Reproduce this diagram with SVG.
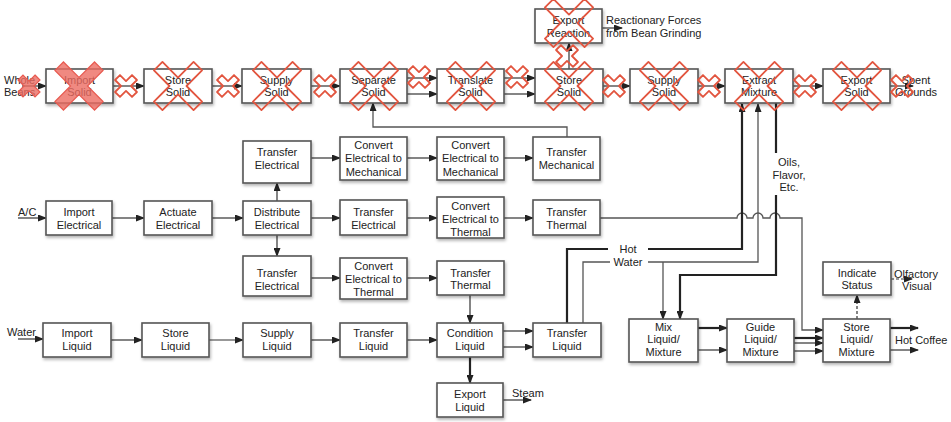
<svg xmlns="http://www.w3.org/2000/svg" xmlns:xlink="http://www.w3.org/1999/xlink" width="951" height="422" viewBox="0 0 951 422">
<style>
.box{fill:#fff;stroke:#555;stroke-width:1.6;filter:url(#sh)}
.t{font-family:"Liberation Sans",Arial,sans-serif;font-size:11px;fill:#222;text-anchor:middle}
.l{font-family:"Liberation Sans",Arial,sans-serif;font-size:11px;fill:#222}
.c{fill:none;stroke:#333;stroke-width:1.2}
.a{marker-end:url(#ah)}
.k{stroke-width:2.2;stroke:#222}
.g{stroke:#555;stroke-width:1.3}
.d{stroke-dasharray:3,2}
.x{fill:none;stroke:#e2553f;stroke-width:1.8;stroke-linejoin:round}
.xf{fill:#ec6b62;fill-opacity:0.8;stroke:#e85a50;stroke-width:1.2}
</style>
<defs>
<filter id="sh" x="-10%" y="-10%" width="130%" height="140%">
<feDropShadow dx="1" dy="2" stdDeviation="1.5" flood-color="#000" flood-opacity="0.3"/>
</filter>
<marker id="ah" markerWidth="9" markerHeight="7" refX="8" refY="3.5" orient="auto" markerUnits="userSpaceOnUse">
<path d="M0,0 L9,3.5 L0,7 z" fill="#222"/>
</marker>
<path id="bx" d="M-6,-28 H6 V-6 H28 V6 H6 V28 H-6 V6 H-28 V-6 H-6 Z" transform="rotate(45)"/>
<path id="sx" d="M-3.5,-12 H3.5 V-3.5 H12 V3.5 H3.5 V12 H-3.5 V3.5 H-12 V-3.5 H-3.5 Z" transform="rotate(45)"/>
</defs>

<g id="connectors">
<path class="c a" d="M22,86 H46"/>
<path class="c a" d="M113,86 H144"/>
<path class="c a" d="M212,86 H242"/>
<path class="c a" d="M311,86 H340"/>
<path class="c a" d="M407,78 H437"/>
<path class="c a" d="M407,94 H437"/>
<path class="c a" d="M504,78 H535"/>
<path class="c a" d="M504,94 H535"/>
<path class="c a" d="M603,86 H630"/>
<path class="c a" d="M698,86 H725"/>
<path class="c a" d="M793,86 H823"/>
<path class="c a" d="M890,86 H913"/>
<path class="c a" d="M569,69 V43"/>
<path class="c a" d="M602,28 H622"/>
<path class="c a g" d="M567,137 V127 H373 V103"/>
<path class="c a" d="M277,201 V183"/>
<path class="c a" d="M277,235 V256"/>
<path class="c a" d="M18,218 H46"/>
<path class="c a" d="M112,218 H144"/>
<path class="c a" d="M212,218 H243"/>
<path class="c a" d="M311,218 H340"/>
<path class="c a" d="M407,218 H437"/>
<path class="c a" d="M504,218 H533"/>
<path class="c a" d="M311,158 H340"/>
<path class="c a" d="M407,158 H437"/>
<path class="c a" d="M504,158 H533"/>
<path class="c a" d="M311,278 H340"/>
<path class="c a" d="M407,278 H437"/>
<path class="c a g" d="M600,218 H737 a5,5 0 0 1 10,0 H753 a5,5 0 0 1 10,0 H770 a5,5 0 0 1 10,0 H802 V330 H823"/>
<path class="c a" d="M18,339 H43"/>
<path class="c a" d="M111,340 H142"/>
<path class="c a" d="M209,340 H243"/>
<path class="c a" d="M311,340 H340"/>
<path class="c a" d="M407,340 H437"/>
<path class="c a" d="M470,295 V323"/>
<path class="c a k" d="M470,357 V383"/>
<path class="c a" d="M503,331 H533"/>
<path class="c a" d="M503,347 H533"/>
<path class="c a" d="M503,400 H531"/>
<path class="c k" d="M567,323 V249 H608"/>
<path class="c a k" d="M648,249 H742 V104"/>
<path class="c g" d="M583,323 V262 H610"/>
<path class="c a g" d="M648,262 H758 V104"/>
<path class="c a g" d="M663,262 V319"/>
<path class="c a" d="M741,104 V84 H776 V102"/>
<path class="c k" d="M776,102 V153"/>
<path class="c a k" d="M776,195 V275 H680 V319"/>
<path class="c a k" d="M698,328 H727"/>
<path class="c a" d="M698,350 H727"/>
<path class="c a k" d="M794,338 H823"/>
<path class="c a" d="M794,343 H823"/>
<path class="c a" d="M794,351 H823"/>
<path class="c a k" d="M890,328 H918"/>
<path class="c a" d="M890,350 H918"/>
<path class="c a d" d="M857,319 V295"/>
<path class="c a d" d="M891,279 H912"/>
</g>

<g id="import-solid"><rect class="box" x="46" y="69" width="67" height="34"/><text class="t" x="79.5" y="84">Import</text><text class="t" x="79.5" y="96">Solid</text></g>
<g id="store-solid"><rect class="box" x="144" y="69" width="68" height="34"/><text class="t" x="178" y="84">Store</text><text class="t" x="178" y="96">Solid</text></g>
<g id="supply-solid"><rect class="box" x="242" y="69" width="69" height="34"/><text class="t" x="276.5" y="84">Supply</text><text class="t" x="276.5" y="96">Solid</text></g>
<g id="separate-solid"><rect class="box" x="340" y="69" width="67" height="34"/><text class="t" x="373.5" y="84">Separate</text><text class="t" x="373.5" y="96">Solid</text></g>
<g id="translate-solid"><rect class="box" x="437" y="69" width="67" height="34"/><text class="t" x="470.5" y="84">Translate</text><text class="t" x="470.5" y="96">Solid</text></g>
<g id="store-solid-2"><rect class="box" x="535" y="69" width="68" height="34"/><text class="t" x="569" y="84">Store</text><text class="t" x="569" y="96">Solid</text></g>
<g id="export-reaction"><rect class="box" x="535" y="9" width="67" height="34"/><text class="t" x="568.5" y="24">Export</text><text class="t" x="568.5" y="37">Reaction</text></g>
<g id="supply-solid-2"><rect class="box" x="630" y="69" width="68" height="34"/><text class="t" x="664" y="84">Supply</text><text class="t" x="664" y="96">Solid</text></g>
<g id="extract-mixture"><rect class="box" x="725" y="69" width="68" height="34"/><text class="t" x="759" y="84">Extract</text><text class="t" x="759" y="96">Mixture</text></g>
<g id="export-solid"><rect class="box" x="823" y="69" width="67" height="34"/><text class="t" x="856.5" y="84">Export</text><text class="t" x="856.5" y="96">Solid</text></g>

<g id="transfer-electrical-top"><rect class="box" x="243" y="141" width="68" height="42"/><text class="t" x="277" y="156">Transfer</text><text class="t" x="277" y="169">Electrical</text></g>
<g id="convert-em-1"><rect class="box" x="340" y="137" width="67" height="43"/><text class="t" x="373.5" y="149">Convert</text><text class="t" x="373.5" y="162">Electrical to</text><text class="t" x="373.5" y="176">Mechanical</text></g>
<g id="convert-em-2"><rect class="box" x="437" y="137" width="67" height="43"/><text class="t" x="470.5" y="149">Convert</text><text class="t" x="470.5" y="162">Electrical to</text><text class="t" x="470.5" y="176">Mechanical</text></g>
<g id="transfer-mechanical"><rect class="box" x="533" y="137" width="67" height="43"/><text class="t" x="566.5" y="156">Transfer</text><text class="t" x="566.5" y="169">Mechanical</text></g>

<g id="import-electrical"><rect class="box" x="46" y="201" width="66" height="34"/><text class="t" x="79" y="216">Import</text><text class="t" x="79" y="229">Electrical</text></g>
<g id="actuate-electrical"><rect class="box" x="144" y="201" width="68" height="34"/><text class="t" x="178" y="216">Actuate</text><text class="t" x="178" y="229">Electrical</text></g>
<g id="distribute-electrical"><rect class="box" x="243" y="201" width="68" height="34"/><text class="t" x="277" y="216">Distribute</text><text class="t" x="277" y="229">Electrical</text></g>
<g id="transfer-electrical-mid"><rect class="box" x="340" y="200" width="67" height="35"/><text class="t" x="373.5" y="216">Transfer</text><text class="t" x="373.5" y="229">Electrical</text></g>
<g id="convert-et-mid"><rect class="box" x="437" y="197" width="67" height="41"/><text class="t" x="470.5" y="210">Convert</text><text class="t" x="470.5" y="223">Electrical to</text><text class="t" x="470.5" y="236">Thermal</text></g>
<g id="transfer-thermal-mid"><rect class="box" x="533" y="200" width="67" height="35"/><text class="t" x="566.5" y="216">Transfer</text><text class="t" x="566.5" y="229">Thermal</text></g>

<g id="transfer-electrical-bot"><rect class="box" x="243" y="256" width="68" height="40"/><text class="t" x="277" y="277">Transfer</text><text class="t" x="277" y="290">Electrical</text></g>
<g id="convert-et-bot"><rect class="box" x="340" y="258" width="67" height="41"/><text class="t" x="373.5" y="270">Convert</text><text class="t" x="373.5" y="283">Electrical to</text><text class="t" x="373.5" y="296">Thermal</text></g>
<g id="transfer-thermal-bot"><rect class="box" x="437" y="261" width="67" height="34"/><text class="t" x="470.5" y="277">Transfer</text><text class="t" x="470.5" y="289">Thermal</text></g>

<g id="import-liquid"><rect class="box" x="43" y="323" width="68" height="34"/><text class="t" x="77" y="337">Import</text><text class="t" x="77" y="350">Liquid</text></g>
<g id="store-liquid"><rect class="box" x="142" y="323" width="67" height="34"/><text class="t" x="175.5" y="337">Store</text><text class="t" x="175.5" y="350">Liquid</text></g>
<g id="supply-liquid"><rect class="box" x="243" y="323" width="68" height="34"/><text class="t" x="277" y="337">Supply</text><text class="t" x="277" y="350">Liquid</text></g>
<g id="transfer-liquid"><rect class="box" x="340" y="323" width="67" height="34"/><text class="t" x="373.5" y="337">Transfer</text><text class="t" x="373.5" y="350">Liquid</text></g>
<g id="condition-liquid"><rect class="box" x="437" y="323" width="66" height="34"/><text class="t" x="470" y="337">Condition</text><text class="t" x="470" y="350">Liquid</text></g>
<g id="transfer-liquid-2"><rect class="box" x="533" y="323" width="68" height="34"/><text class="t" x="567" y="337">Transfer</text><text class="t" x="567" y="350">Liquid</text></g>
<g id="export-liquid"><rect class="box" x="437" y="383" width="66" height="34"/><text class="t" x="470" y="398">Export</text><text class="t" x="470" y="411">Liquid</text></g>

<g id="mix-liquid-mixture"><rect class="box" x="629" y="319" width="69" height="43"/><text class="t" x="663.5" y="331">Mix</text><text class="t" x="663.5" y="343">Liquid/</text><text class="t" x="663.5" y="356">Mixture</text></g>
<g id="guide-liquid-mixture"><rect class="box" x="727" y="319" width="67" height="43"/><text class="t" x="760.5" y="331">Guide</text><text class="t" x="760.5" y="343">Liquid/</text><text class="t" x="760.5" y="356">Mixture</text></g>
<g id="store-liquid-mixture"><rect class="box" x="823" y="319" width="67" height="43"/><text class="t" x="856.5" y="331">Store</text><text class="t" x="856.5" y="343">Liquid/</text><text class="t" x="856.5" y="356">Mixture</text></g>
<g id="indicate-status"><rect class="box" x="823" y="262" width="68" height="33"/><text class="t" x="857" y="277">Indicate</text><text class="t" x="857" y="289">Status</text></g>

<g id="labels">
<text class="l" x="4" y="84">Whole</text><text class="l" x="4" y="96">Beans</text>
<text class="t" x="916" y="84">Spent</text><text class="t" x="916" y="96">Grounds</text>
<text class="l" x="606" y="24">Reactionary Forces</text><text class="l" x="606" y="37">from Bean Grinding</text>
<text class="l" x="18" y="216">A/C</text>
<text class="l" x="7" y="336">Water</text>
<text class="l" x="512" y="397">Steam</text>
<text class="t" x="628" y="253">Hot</text><text class="t" x="628" y="266">Water</text>
<text class="t" x="789" y="166">Oils,</text><text class="t" x="789" y="179">Flavor,</text><text class="t" x="789" y="191">Etc.</text>
<text class="l" x="894" y="278">Olfactory</text><text class="l" x="902" y="290">Visual</text>
<text class="l" x="895" y="344">Hot Coffee</text>
</g>

<g id="crossouts">
<use xlink:href="#sx" href="#sx" class="xf" transform="translate(29,86)"/>
<use xlink:href="#bx" href="#bx" class="xf" transform="translate(79,86)"/>
<use xlink:href="#sx" href="#sx" class="x" transform="translate(126,86)"/>
<use xlink:href="#bx" href="#bx" class="x" transform="translate(178,86)"/>
<use xlink:href="#sx" href="#sx" class="x" transform="translate(228,86)"/>
<use xlink:href="#bx" href="#bx" class="x" transform="translate(277,86)"/>
<use xlink:href="#sx" href="#sx" class="x" transform="translate(325,86)"/>
<use xlink:href="#bx" href="#bx" class="x" transform="translate(374,86)"/>
<use xlink:href="#sx" href="#sx" class="x" transform="translate(419,77)"/>
<use xlink:href="#bx" href="#bx" class="x" transform="translate(471,86)"/>
<use xlink:href="#sx" href="#sx" class="x" transform="translate(517,77)"/>
<use xlink:href="#bx" href="#bx" class="x" transform="translate(569,86)"/>
<use xlink:href="#sx" href="#sx" class="x" transform="translate(567,56)"/>
<use xlink:href="#bx" href="#bx" class="x" transform="translate(569,23)"/>
<use xlink:href="#sx" href="#sx" class="x" transform="translate(614,86)"/>
<use xlink:href="#bx" href="#bx" class="x" transform="translate(664,86)"/>
<use xlink:href="#sx" href="#sx" class="x" transform="translate(709,86)"/>
<use xlink:href="#bx" href="#bx" class="x" transform="translate(759,86)"/>
<use xlink:href="#sx" href="#sx" class="x" transform="translate(805,86)"/>
<use xlink:href="#bx" href="#bx" class="x" transform="translate(857,86)"/>
<use xlink:href="#sx" href="#sx" class="x" transform="translate(902,86)"/>
</g>
</svg>
